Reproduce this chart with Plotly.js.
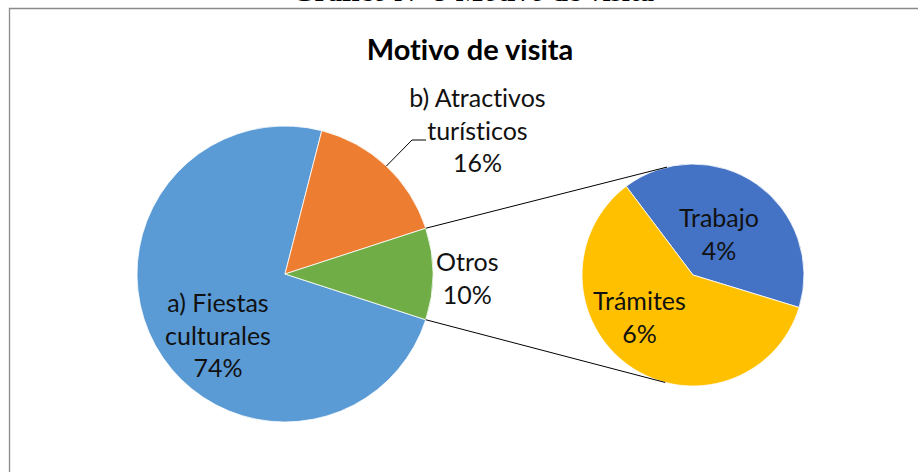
<!DOCTYPE html>
<html><head><meta charset="utf-8">
<script src="https://cdn.plot.ly/plotly-3.0.1.min.js"></script>
<style>html,body{margin:0;padding:0;background:#fff;overflow:hidden}#chart{width:918px;height:472px;}#chart text{font-variant-ligatures:none;font-feature-settings:"liga" 0,"clig" 0;}</style>
</head><body><div id="chart"></div>
<script>
// ---- data ----
const mainLabels = ['a) Fiestas<br>culturales', 'b) Atractivos<br>turísticos', 'Otros'];
const mainValues = [74, 16, 10];
const mainColors = ['#5B9BD5', '#ED7D31', '#70AD47'];
const subLabels = ['Trabajo', 'Trámites'];
const subValues = [4, 6];
const subColors = ['#4472C4', '#FFC000'];
const chartTitle = 'Motivo de visita';
const captionText = 'Gráfico N° 9 Motivo de visita';

// ---- geometry ----
const W = 918, H = 472;
const px = x => x / W, py = y => 1 - y / H;
const main = {cx: 285, cy: 274, r: 148};
const sub = {cx: 693, cy: 275, r: 111};
const total = mainValues.reduce((a, b) => a + b, 0);
const otrosDeg = mainValues[2] / total * 360;
const mainRotation = 90 + otrosDeg / 2;
const subRotation = -37;

const FONT = 'Lato, "Open Sans", sans-serif';
const dom = g => ({x: [px(g.cx - g.r), px(g.cx + g.r)], y: [py(g.cy + g.r), py(g.cy - g.r)]});

const traces = [
  {type: 'pie', values: mainValues, labels: mainLabels, sort: false, direction: 'clockwise',
   rotation: mainRotation, domain: dom(main), textinfo: 'none', hoverinfo: 'label+percent',
   marker: {colors: mainColors, line: {color: '#ffffff', width: 0.8}}, showlegend: false},
  {type: 'pie', values: subValues, labels: subLabels, sort: false, direction: 'clockwise',
   rotation: subRotation, domain: dom(sub), textinfo: 'none', hoverinfo: 'label+percent',
   marker: {colors: subColors, line: {color: '#ffffff', width: 0.8}}, showlegend: false}
];

const pt = (g, deg, rr) => [g.cx + (rr || g.r) * Math.cos(deg * Math.PI / 180), g.cy - (rr || g.r) * Math.sin(deg * Math.PI / 180)];
const pct = v => Math.round(v / total * 100) + '%';

const labelPos = [[218, 334], [477, 130], [468, 277]];
const subLabelPos = [[719, 233], [639, 316]];
const annotations = [];
mainLabels.forEach((l, i) => annotations.push({text: l + '<br>' + pct(mainValues[i]), x: px(labelPos[i][0]), y: py(labelPos[i][1])}));
subLabels.forEach((l, i) => annotations.push({text: l + '<br>' + pct(subValues[i]), x: px(subLabelPos[i][0]), y: py(subLabelPos[i][1])}));
annotations.forEach(a => Object.assign(a, {xref: 'paper', yref: 'paper', xanchor: 'center', yanchor: 'middle', showarrow: false, font: {family: FONT, size: 25, color: '#111'}}));
annotations.push({text: '<b>' + captionText + '</b>', xref: 'paper', yref: 'paper', x: px(473), y: py(-9.5), xanchor: 'center', yanchor: 'middle', showarrow: false, font: {family: '"Liberation Serif", "Times New Roman", serif', size: 29, color: '#000'}});

// connectors
const up1 = pt(main, otrosDeg / 2), lo1 = pt(main, -otrosDeg / 2);
const up2 = pt(sub, 103.5), lo2 = pt(sub, -104.5);
const atrMid = (otrosDeg / 2) + (mainValues[1] / total * 360) / 2;
const lead0 = pt(main, atrMid);
const line = (a, b) => ({type: 'line', xref: 'paper', yref: 'paper', x0: px(a[0]), y0: py(a[1]), x1: px(b[0]), y1: py(b[1]), line: {color: '#000', width: 1}});
const shapes = [
  {type: 'rect', xref: 'paper', yref: 'paper', x0: px(9.5), x1: px(930), y0: py(490), y1: py(8.5), line: {color: '#8a8a8a', width: 1.3}, fillcolor: 'rgba(0,0,0,0)'},
  line(up1, up2), line(lo1, lo2),
  {type: 'path', xref: 'paper', yref: 'paper', path: `M ${px(lead0[0])} ${py(lead0[1])} L ${px(412)} ${py(140)} L ${px(426)} ${py(140)}`, line: {color: '#000', width: 1}}
];

const layout = {
  width: W, height: H, margin: {l: 0, r: 0, t: 0, b: 0},
  paper_bgcolor: '#fff', plot_bgcolor: '#fff',
  title: {text: '<b>' + chartTitle + '</b>', x: px(470), xanchor: 'center', y: py(50), yanchor: 'middle', yref: 'container', font: {family: FONT, size: 29, color: '#000'}},
  annotations, shapes, showlegend: false
};
Plotly.newPlot('chart', traces, layout, {staticPlot: true, displayModeBar: false});
</script></body></html>
